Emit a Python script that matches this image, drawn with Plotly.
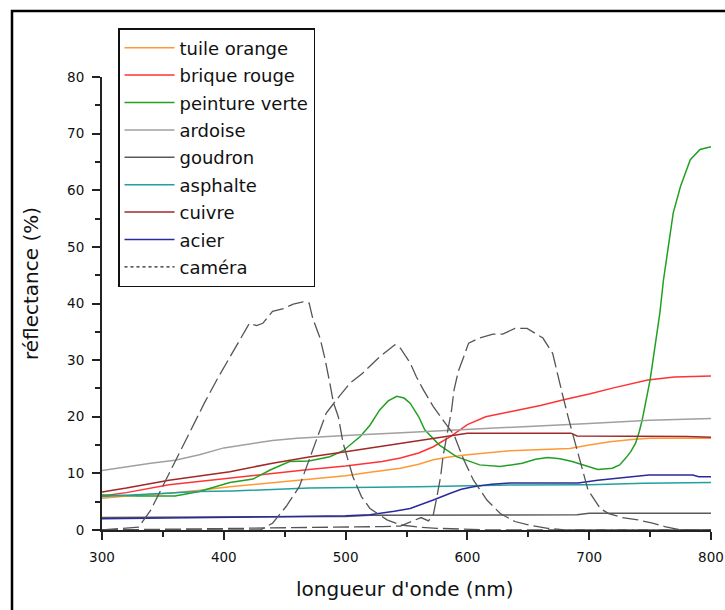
import plotly.graph_objects as go

# ---------------- data ----------------
tuile_x = [300, 320, 355, 380, 405, 440, 470, 500, 520, 545, 560, 572, 585, 600, 635, 660, 684, 700, 717, 735, 750, 800]
tuile_y = [5.6, 6.0, 6.5, 7.0, 7.65, 8.4, 9.0, 9.6, 10.2, 10.9, 11.6, 12.4, 12.9, 13.3, 14.0, 14.2, 14.4, 15.0, 15.6, 16.0, 16.2, 16.2]

brique_x = [300, 320, 355, 380, 405, 440, 470, 500, 530, 545, 560, 572, 586, 600, 615, 635, 660, 679, 700, 720, 748, 770, 800]
brique_y = [6.0, 6.6, 8.0, 8.6, 9.1, 10.0, 10.7, 11.3, 12.1, 12.7, 13.6, 14.7, 16.5, 18.6, 20.0, 20.9, 22.0, 23.0, 24.0, 25.1, 26.5, 27.0, 27.2]

verte_x = [300, 330, 360, 380, 405, 424, 438, 454, 470, 487, 498, 512, 520, 528, 535, 542, 548, 553, 560, 565, 577, 591, 610, 627, 645, 656, 666, 676, 686, 697, 707, 719, 725, 730, 734, 738, 741, 743.5, 747.7, 750, 754, 758, 761, 765, 769, 775, 783, 791, 800]
verte_y = [6.2, 6.0, 6.0, 6.8, 8.4, 9.0, 10.6, 12.1, 12.2, 12.95, 14.0, 16.5, 18.5, 21.2, 22.8, 23.6, 23.3, 22.4, 20.0, 17.7, 15.0, 12.95, 11.5, 11.2, 11.8, 12.5, 12.8, 12.6, 12.1, 11.3, 10.7, 10.9, 11.5, 12.7, 13.8, 15.3, 17.3, 19.4, 23.6, 26.5, 32.4, 38.3, 44.2, 50.1, 56.0, 60.7, 65.4, 67.2, 67.7]

ardoise_x = [300, 320, 340, 360, 380, 400, 420, 440, 460, 480, 500, 550, 600, 650, 700, 750, 800]
ardoise_y = [10.5, 11.2, 11.8, 12.3, 13.3, 14.5, 15.2, 15.8, 16.2, 16.5, 16.7, 17.2, 17.8, 18.3, 18.8, 19.4, 19.7]

goudron_x = [300, 400, 500, 520, 600, 690, 700, 800]
goudron_y = [2.2, 2.3, 2.4, 2.6, 2.65, 2.7, 2.95, 2.95]

asphalte_x = [300, 340, 380, 407, 450, 470, 560, 600, 640, 700, 745, 800]
asphalte_y = [5.9, 6.3, 6.8, 6.9, 7.2, 7.4, 7.65, 7.8, 7.95, 8.0, 8.25, 8.4]

cuivre_x = [300, 320, 355, 380, 405, 440, 470, 500, 530, 560, 572, 600, 685, 690, 780, 800]
cuivre_y = [6.7, 7.4, 8.8, 9.6, 10.3, 11.8, 12.9, 13.8, 14.8, 15.8, 16.2, 17.1, 17.1, 16.6, 16.5, 16.4]

acier_x = [300, 350, 400, 450, 500, 520, 528, 540, 553, 565, 572, 586, 595, 605, 620, 635, 660, 691, 707, 732, 749, 785, 790, 800]
acier_y = [2.0, 2.1, 2.2, 2.3, 2.5, 2.7, 2.9, 3.3, 3.8, 4.7, 5.3, 6.5, 7.2, 7.65, 8.1, 8.3, 8.3, 8.3, 8.8, 9.4, 9.7, 9.7, 9.4, 9.4]

cam_b_x = [300, 330, 340, 347, 355, 369, 375, 384, 395, 407, 414, 421, 427, 432, 440, 449, 457, 465, 470, 473, 479, 483, 487, 490, 494, 498, 506, 513, 520, 534, 545, 560, 575, 620, 800]
cam_b_y = [0.0, 0.5, 3.5, 6.5, 10.0, 15.9, 18.6, 22.4, 26.8, 31.2, 33.9, 36.5, 36.1, 36.5, 38.6, 39.1, 39.9, 40.3, 40.1, 37.4, 33.9, 30.3, 26.0, 22.5, 20.0, 15.3, 9.4, 5.9, 3.8, 1.8, 0.9, 0.5, 0.3, 0.0, 0.0]

cam_g_x = [300, 430, 440, 451, 462, 471, 479, 484, 492.5, 503.5, 514, 528, 540.5, 545, 553, 558, 564, 572, 580, 589, 597, 605, 616, 627, 639, 650, 666, 680, 800]
cam_g_y = [0.0, 0.0, 1.2, 4.1, 7.65, 12.95, 17.7, 20.6, 23.0, 25.9, 27.7, 30.6, 32.7, 32.1, 29.5, 27.1, 24.7, 21.8, 19.4, 16.8, 12.4, 8.8, 5.3, 2.9, 1.5, 0.9, 0.3, 0.0, 0.0]

cam_r_x = [300, 440, 530, 545, 555, 562, 568, 572, 575, 578, 580, 584, 587, 589, 592.5, 597, 601, 610, 621, 629, 639, 649, 654, 662, 670, 673, 678, 683, 687, 691, 699, 709, 716, 727, 740, 752, 762, 773, 800]
cam_r_y = [0.0, 0.3, 0.6, 0.7, 1.5, 2.2, 1.6, 2.7, 5.9, 9.4, 13.0, 17.7, 21.2, 24.7, 28.0, 30.6, 33.0, 33.9, 34.6, 34.6, 35.6, 35.6, 35.0, 33.9, 31.2, 28.3, 24.0, 19.7, 16.5, 13.3, 7.1, 3.8, 2.9, 2.2, 1.8, 1.2, 0.6, 0.1, 0.0]

names = ["tuile orange", "brique rouge", "peinture verte", "ardoise", "goudron",
         "asphalte", "cuivre", "acier", "caméra"]
colors = ["#ff9933", "#ff3333", "#22a022", "#a0a0a0", "#5a5a5a",
          "#22a0a0", "#a02828", "#2a2a9c", "#555555"]

x_ticks = [300, 400, 500, 600, 700, 800]
y_ticks = [0, 10, 20, 30, 40, 50, 60, 70, 80]

series = [(tuile_x, tuile_y), (brique_x, brique_y), (verte_x, verte_y),
          (ardoise_x, ardoise_y), (goudron_x, goudron_y), (asphalte_x, asphalte_y),
          (cuivre_x, cuivre_y), (acier_x, acier_y)]
cameras = [(cam_b_x, cam_b_y), (cam_g_x, cam_g_y), (cam_r_x, cam_r_y)]

# ---------------- layout geometry ----------------
W, H = 725, 610
L, R, T, B = 102, 14, 77, 80
PW, PH = W - L - R, H - T - B

def px_x(p):
    return (p - L) / PW

def px_y(p):
    return (H - B - p) / PH

FONT = "DejaVu Sans"

fig = go.Figure()

for i, (xs, ys) in enumerate(series):
    fig.add_trace(go.Scatter(x=xs, y=ys, mode="lines", name=names[i],
                             legendgroup=names[i],
                             line=dict(color=colors[i], width=1.5)))

for xs, ys in cameras:
    fig.add_trace(go.Scatter(x=xs, y=ys, mode="lines", showlegend=False,
                             legendgroup="cam", hoverinfo="skip",
                             line=dict(color=colors[8], width=1.3, dash="16px,5px")))
# legend entry for the camera (dotted sample, as in the reference legend)
fig.add_trace(go.Scatter(x=[None], y=[None], mode="lines", name=names[8],
                         legendgroup="cam",
                         line=dict(color="#222222", width=1.2, dash="dot")))

axis_common = dict(showgrid=False, zeroline=False, showline=True,
                   linecolor="#222222", linewidth=2, automargin=False,
                   ticks="outside", ticklen=8, tickwidth=1.5, tickcolor="#222222",
                   tickfont=dict(family=FONT, size=13.5, color="#111111"),
                   fixedrange=True)

fig.update_xaxes(range=[300, 800], tickvals=x_ticks, ticktext=[str(v) for v in x_ticks],
                 minor=dict(ticks="outside", ticklen=5, tickwidth=1.5, tickcolor="#222222",
                            dtick=50, tick0=300, showgrid=False),
                 ticklabelstandoff=6, **axis_common)
fig.update_yaxes(range=[0, 80], tickvals=y_ticks, ticktext=[str(v) for v in y_ticks],
                 minor=dict(ticks="outside", ticklen=5, tickwidth=1.5, tickcolor="#222222",
                            dtick=5, tick0=0, showgrid=False),
                 ticklabelstandoff=5, **axis_common)

fig.update_layout(
    width=W, height=H,
    margin=dict(l=L, r=R, t=T, b=B, pad=0, autoexpand=False),
    paper_bgcolor="white", plot_bgcolor="white",
    font=dict(family=FONT, color="#111111"),
    showlegend=True,
    legend=dict(x=px_x(118), y=px_y(28), xanchor="left", yanchor="top",
                bgcolor="white", bordercolor="#111111", borderwidth=1.5,
                font=dict(family=FONT, size=18, color="#111111"),
                itemwidth=50, tracegroupgap=1, traceorder="grouped"),
    annotations=[
        dict(text="longueur d'onde (nm)", xref="paper", yref="paper",
             x=px_x(405), y=px_y(589), xanchor="center", yanchor="middle",
             showarrow=False, font=dict(family=FONT, size=20, color="#111111")),
        dict(text="réflectance (%)", xref="paper", yref="paper",
             x=px_x(31), y=px_y(284), xanchor="center", yanchor="middle",
             textangle=-90, showarrow=False,
             font=dict(family=FONT, size=20, color="#111111")),
    ],
    shapes=[
        dict(type="rect", xref="paper", yref="paper",
             x0=px_x(12), x1=px_x(745), y0=px_y(630), y1=px_y(11),
             line=dict(color="black", width=2.5), fillcolor="rgba(0,0,0,0)",
             layer="above"),
    ],
)

fig.write_html("out.html")
